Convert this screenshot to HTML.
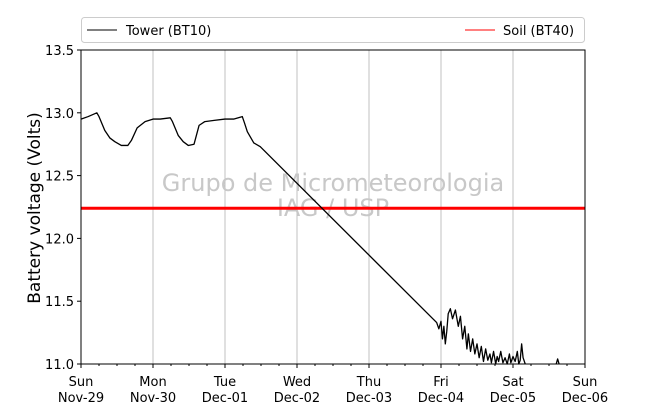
<!DOCTYPE html>
<html><head><meta charset="utf-8"><style>
body{margin:0;background:#fff}
svg{display:block;font-family:"DejaVu Sans","Liberation Sans",sans-serif}
</style></head><body>
<svg id="chart" width="650" height="409" viewBox="0 0 650 409" xmlns="http://www.w3.org/2000/svg">
<g id="grid"></g>
<g fill="#c8c8c8" font-size="24" text-anchor="middle">
<text x="333" y="191">Grupo de Micrometeorologia</text>
<text x="333" y="216">IAG / USP</text>
</g>
<g id="series"></g>
<rect x="81" y="50" width="504" height="314" fill="none" stroke="#000" stroke-width="1"/>
<g id="axes" font-size="13"></g>
<text transform="translate(40,208) rotate(-90)" text-anchor="middle" font-size="17">Battery voltage (Volts)</text>
<g>
<rect x="81.5" y="17.5" width="503" height="25" rx="3" fill="#fff" stroke="#ccc"/>
<line x1="87" y1="30" x2="117" y2="30" stroke="#000"/>
<text x="126" y="35" font-size="13">Tower (BT10)</text>
<line x1="465" y1="30" x2="495" y2="30" stroke="#f00"/>
<text x="503" y="35" font-size="13">Soil (BT40)</text>
</g>
</svg>
<script>
const dayLabels=["Sun","Mon","Tue","Wed","Thu","Fri","Sat","Sun"];
const dateLabels=["Nov-29","Nov-30","Dec-01","Dec-02","Dec-03","Dec-04","Dec-05","Dec-06"];
const yTicks=[11.0,11.5,12.0,12.5,13.0,13.5];
const towerT=[0,0.1,0.22,0.25,0.33,0.4,0.47,0.56,0.65,0.7,0.78,0.89,1.0,1.1,1.24,1.27,1.35,1.42,1.49,1.57,1.64,1.72,1.85,2.0,2.12,2.24,2.27,2.31,2.4,2.49,
4.94,4.97,5.0,5.02,5.04,5.06,5.08,5.1,5.13,5.16,5.2,5.24,5.27,5.3,5.33,5.36,5.38,5.41,5.44,5.47,5.5,5.53,5.56,5.59,5.62,5.65,5.68,5.7,5.73,5.76,5.78,5.8,5.83,5.86,5.89,5.92,5.95,5.97,6.0,6.03,6.06,6.08,6.1,6.12,6.14,6.17];
const towerV=[12.95,12.97,13.0,12.97,12.86,12.8,12.77,12.74,12.74,12.78,12.88,12.93,12.95,12.95,12.96,12.93,12.82,12.77,12.74,12.75,12.9,12.93,12.94,12.95,12.95,12.97,12.92,12.85,12.76,12.73,
11.33,11.28,11.34,11.2,11.3,11.16,11.26,11.4,11.44,11.36,11.43,11.3,11.38,11.2,11.3,11.12,11.24,11.1,11.2,11.08,11.16,11.05,11.14,11.02,11.12,11.03,11.08,11.01,11.1,11.0,11.06,11.02,11.1,11.01,11.05,11.0,11.08,11.01,11.06,11.02,11.1,11.0,11.03,11.16,11.05,11.0];
const tower2T=[6.6,6.62,6.64];
const tower2V=[11.0,11.04,11.0];
const soilT=[0,1,2,3,4,5,6,7];
const soilV=[12.24,12.24,12.24,12.24,12.24,12.24,12.24,12.24];
const NS="http://www.w3.org/2000/svg";
const X0=81,X1=585,Y0=364,Y1=50,TMAX=7,VMIN=11,VMAX=13.5;
const xs=t=>X0+(X1-X0)*t/TMAX;
const ys=v=>Y0-(Y0-Y1)*(v-VMIN)/(VMAX-VMIN);
function mk(tag,attrs,parent){const e=document.createElementNS(NS,tag);for(const k in attrs)e.setAttribute(k,attrs[k]);parent.appendChild(e);return e;}
const grid=document.getElementById('grid'),axes=document.getElementById('axes'),series=document.getElementById('series');
for(let d=1;d<TMAX;d++){const l=mk('line',{x1:xs(d),x2:xs(d),y1:Y1,y2:Y0,stroke:'#c0c0c0','stroke-width':1},grid);

}
for(let q=0;q<=TMAX*4;q++){const major=q%4===0;const l=mk('line',{x1:xs(q/4),x2:xs(q/4),y1:Y0,y2:Y0+(major?4:2),stroke:'#000'},axes);

}
dayLabels.forEach((d,i)=>{const t=mk('text',{x:xs(i),y:386,'text-anchor':'middle'},axes);t.textContent=d;


const t2=mk('text',{x:xs(i),y:402,'text-anchor':'middle'},axes);t2.textContent=dateLabels[i];

});
yTicks.forEach(v=>{const l=mk('line',{x1:X0-4,x2:X0,y1:ys(v),y2:ys(v),stroke:'#000'},axes);


const t=mk('text',{x:X0-7,y:ys(v)+5,'text-anchor':'end'},axes);t.textContent=v.toFixed(1);

});
function line(T,V,color,w,name){const p=mk('polyline',{points:T.map((t,i)=>xs(t)+','+ys(V[i])).join(' '),fill:'none',stroke:color,'stroke-width':w,'stroke-linejoin':'round'},series);

}
line(soilT,soilV,'#f00',3,'soil-bt40-line');
line(towerT,towerV,'#000',1.3,'tower-bt10-line');
line(tower2T,tower2V,'#000',1.3,'tower-bt10-line-segment');
</script>
</body></html>
